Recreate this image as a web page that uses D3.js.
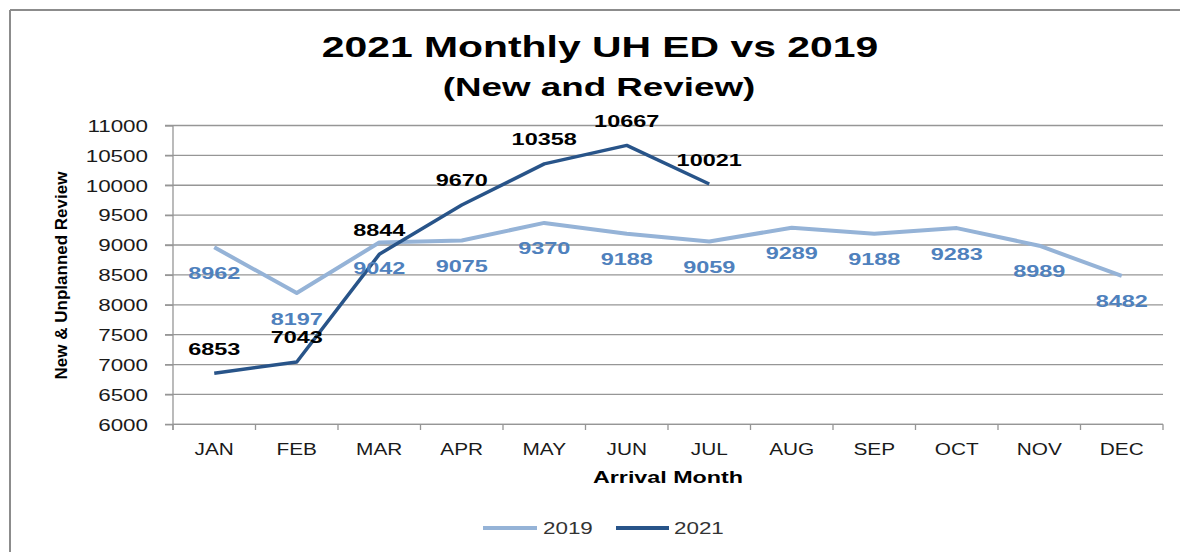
<!DOCTYPE html>
<html>
<head>
<meta charset="utf-8">
<script src="https://cdn.jsdelivr.net/npm/d3@7"></script>
<style>
  html, body { margin: 0; padding: 0; background: #ffffff; }
  svg { display: block; }
  text { font-family: "Liberation Sans", Arial, sans-serif; }
</style>
</head>
<body>
<svg id="chart" width="1180" height="552"></svg>
<script>
// ---- data ----
const months = ["JAN","FEB","MAR","APR","MAY","JUN","JUL","AUG","SEP","OCT","NOV","DEC"];
const values2019 = [8962, 8197, 9042, 9075, 9370, 9188, 9059, 9289, 9188, 9283, 8989, 8482];
const values2021 = [6853, 7043, 8844, 9670, 10358, 10667, 10021];
const yTicks = [6000, 6500, 7000, 7500, 8000, 8500, 9000, 9500, 10000, 10500, 11000];
const seriesNames = ["2019", "2021"];
const titleText = "2021 Monthly UH ED vs 2019";
const subtitleText = "(New and Review)";
const xTitle = "Arrival Month";
const yTitle = "New & Unplanned Review";

// ---- style ----
const C2019 = "#95b3d7", C2021 = "#285489", L2019 = "#4f81bd";
const GRID = "#969696";
const SX = 1.4; // horizontal text stretch

const svg = d3.select("#chart");

function stretch(sel, k) {
  sel.each(function () {
    const len = this.getComputedTextLength();
    d3.select(this).attr("textLength", len * k).attr("lengthAdjust", "spacingAndGlyphs");
  });
  return sel;
}

// border (top & left)
svg.append("line").attr("x1", 10).attr("x2", 1180).attr("y1", 10).attr("y2", 10)
  .attr("stroke", "#8c8c8c").attr("stroke-width", 2);
svg.append("line").attr("x1", 10).attr("x2", 10).attr("y1", 10).attr("y2", 552)
  .attr("stroke", "#8c8c8c").attr("stroke-width", 2);

const x = d3.scaleBand().domain(months).range([173, 1163]);
const y = d3.scaleLinear().domain([6000, 11000]).range([424.3, 125.5]);
const cx = m => x(m) + x.bandwidth() / 2;

// gridlines
svg.append("g").selectAll("line").data(yTicks).join("line")
  .attr("x1", 165).attr("x2", 1163)
  .attr("y1", d => y(d)).attr("y2", d => y(d))
  .attr("stroke", GRID).attr("stroke-width", 1.3);

// y axis
const yAxis = svg.append("g").attr("transform", "translate(173,0)")
  .call(d3.axisLeft(y).tickValues(yTicks).tickSize(8).tickSizeOuter(0).tickPadding(17).tickFormat(d3.format("d")));
yAxis.select(".domain").remove();
yAxis.selectAll(".tick line").attr("stroke", GRID).attr("stroke-width", 1.3);
stretch(yAxis.selectAll(".tick text").attr("font-size", 16).attr("fill", "#1a1a1a")
  .attr("font-family", "Liberation Sans, Arial, sans-serif").attr("dy", "0.36em").attr("y", 0), SX);
svg.append("line").attr("x1", 173).attr("x2", 173).attr("y1", 125.5).attr("y2", 430)
  .attr("stroke", GRID).attr("stroke-width", 1.3);

// x axis
svg.append("line").attr("x1", 173).attr("x2", 1163).attr("y1", y(6000)).attr("y2", y(6000))
  .attr("stroke", GRID).attr("stroke-width", 1.3);
const bounds = months.map(m => x(m)).concat([x.range()[1]]);
svg.append("g").selectAll("line").data(bounds).join("line")
  .attr("x1", d => d).attr("x2", d => d).attr("y1", y(6000)).attr("y2", 430)
  .attr("stroke", GRID).attr("stroke-width", 1.3);
stretch(svg.append("g").selectAll("text").data(months).join("text")
  .attr("x", d => cx(d)).attr("y", 455).attr("text-anchor", "middle")
  .attr("font-size", 16).attr("fill", "#1a1a1a").text(d => d), 1.3);

// lines
const line = d3.line().x(d => cx(d.m)).y(d => y(d.v));
const d19 = values2019.map((v, i) => ({ m: months[i], v }));
const d21 = values2021.map((v, i) => ({ m: months[i], v }));
svg.append("path").datum(d19).attr("d", line).attr("fill", "none")
  .attr("stroke", C2019).attr("stroke-width", 4).attr("stroke-linejoin", "round");
svg.append("path").datum(d21).attr("d", line).attr("fill", "none")
  .attr("stroke", C2021).attr("stroke-width", 3.5).attr("stroke-linejoin", "round");

// data labels
stretch(svg.append("g").selectAll("text").data(d19).join("text")
  .attr("x", d => cx(d.m)).attr("y", d => y(d.v) + 31.5).attr("text-anchor", "middle")
  .attr("font-size", 17).attr("font-weight", "bold").attr("fill", L2019).text(d => d.v), 1.38);
stretch(svg.append("g").selectAll("text").data(d21).join("text")
  .attr("x", d => cx(d.m)).attr("y", d => y(d.v) - 18.5).attr("text-anchor", "middle")
  .attr("font-size", 17).attr("font-weight", "bold").attr("fill", "#000").text(d => d.v), 1.38);

// titles
stretch(svg.append("text").attr("x", 600).attr("y", 56.7).attr("text-anchor", "middle")
  .attr("font-size", 29.2).attr("font-weight", "bold").attr("fill", "#000").text(titleText), SX);
stretch(svg.append("text").attr("x", 599).attr("y", 95.5).attr("text-anchor", "middle")
  .attr("font-size", 25).attr("font-weight", "bold").attr("fill", "#000").text(subtitleText), 1.47);
stretch(svg.append("text").attr("x", 668).attr("y", 483.3).attr("text-anchor", "middle")
  .attr("font-size", 17).attr("font-weight", "bold").attr("fill", "#000").text(xTitle), 1.37);
svg.append("text").attr("transform", "translate(67,275.5) rotate(-90)").attr("text-anchor", "middle")
  .attr("font-size", 17).attr("font-weight", "bold").attr("fill", "#000").text(yTitle);

// legend
const legend = [
  { name: seriesNames[0], color: C2019, x1: 483, x2: 537, tx: 543 },
  { name: seriesNames[1], color: C2021, x1: 616, x2: 669, tx: 674 }
];
const lg = svg.append("g");
lg.selectAll("line").data(legend).join("line")
  .attr("x1", d => d.x1).attr("x2", d => d.x2).attr("y1", 528).attr("y2", 528)
  .attr("stroke", d => d.color).attr("stroke-width", 4);
stretch(lg.selectAll("text").data(legend).join("text")
  .attr("x", d => d.tx).attr("y", 533.5).attr("font-size", 16).attr("fill", "#333")
  .text(d => d.name), SX);
</script>
</body>
</html>
